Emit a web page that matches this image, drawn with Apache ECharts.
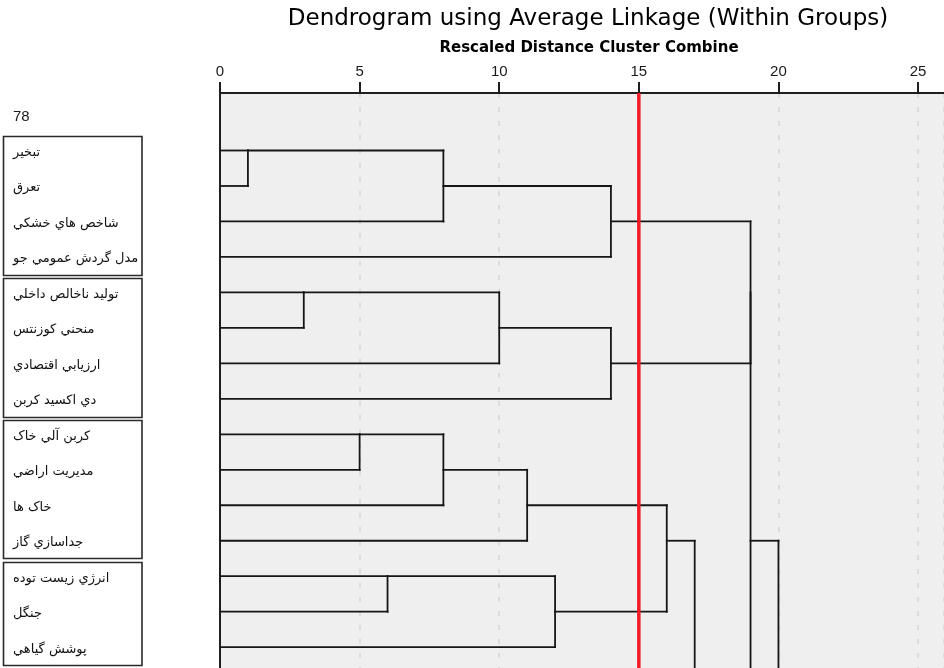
<!DOCTYPE html>
<html><head><meta charset="utf-8">
<script src="https://cdn.jsdelivr.net/npm/echarts@6/dist/echarts.min.js"></script>
<style>html,body{margin:0;padding:0;background:#fff}#c{width:944px;height:668px}</style>
</head><body><div id="c"></div>
<script>
// ---------- data ----------
const titleText = 'Dendrogram using Average Linkage (Within Groups)';
const axisTitle = 'Rescaled Distance Cluster Combine';
const xTicks = [0, 5, 10, 15, 20, 25];
const aboveLabel = '78';               // partially cropped row above the first leaf
const leafLabels = [
  'تبخير', 'تعرق', 'شاخص هاي خشكي', 'مدل گردش عمومي جو',
  'توليد ناخالص داخلي', 'منحني كوزنتس', 'ارزيابي اقتصادي', 'دي اكسيد كربن',
  'كربن آلي خاک', 'مديريت اراضي', 'خاک ها', 'جداسازي گاز',
  'انرژي زيست توده', 'جنگل', 'پوشش گياهي'
];
// leaf groups framed by boxes (first leaf, last leaf)
const labelGroups = [[0, 3], [4, 7], [8, 11], [12, 14]];
// clusters that lie below the cropped area (row positions)
const hiddenClusters = { H1: 18, H2: 18, H3: 22 };
// merges: [child A, child B, rescaled distance]
const merges = [
  ['L0', 'L1', 1],    // M0
  ['M0', 'L2', 8],    // M1
  ['M1', 'L3', 14],   // M2
  ['L4', 'L5', 3],    // M3
  ['M3', 'L6', 10],   // M4
  ['M4', 'L7', 14],   // M5
  ['L8', 'L9', 5],    // M6
  ['M6', 'L10', 8],   // M7
  ['M7', 'L11', 11],  // M8
  ['L12', 'L13', 6],  // M9
  ['M9', 'L14', 12],  // M10
  ['M8', 'M10', 16],  // M11
  ['M11', 'H1', 17],  // M12
  ['M2', 'M5', 19],   // M13
  ['M13', 'H2', 19],  // M14
  ['M14', 'H3', 20]   // M15
];
const cutDistance = 15;

// ---------- build tree segments ----------
const nodes = {};
leafLabels.forEach((_, i) => { nodes['L' + i] = { row: i, h: 0 }; });
const segments = [];
merges.forEach((m, i) => {
  const [a, b, d] = m;
  [a, b].forEach(c => {
    if (!nodes[c]) nodes[c] = { row: hiddenClusters[c], h: d };
    const n = nodes[c];
    if (n.h < d) segments.push([n.h, n.row, d, n.row]);
  });
  const ra = nodes[a].row, rb = nodes[b].row;
  segments.push([d, ra, d, rb]);
  nodes['M' + i] = { row: Math.floor((ra + rb) / 2), h: d };
});

// ---------- layout constants ----------
const gridLeft = 220, gridTop = 93, unitPx = 28, rowPx = 35.6, row0Px = 150.7;
const xMax = (946 - gridLeft) / unitPx;
const yMin = -(row0Px - gridTop) / rowPx;
const yMax = (670 - row0Px) / rowPx;

const chart = echarts.init(document.getElementById('c'), null, { renderer: 'canvas' });
chart.setOption({
  animation: false,
  grid: { left: gridLeft, top: gridTop, right: -2, bottom: -2, show: true,
          backgroundColor: '#efefef', borderWidth: 0 },
  xAxis: {
    type: 'value', position: 'top', min: 0, max: xMax, interval: 5,
    axisLine: { show: true, onZero: false, lineStyle: { color: '#1e1e1e', width: 2 } },
    axisTick: { show: true, inside: false, length: 11, lineStyle: { color: '#1e1e1e', width: 2 } },
    axisLabel: { show: true, margin: 14, fontSize: 15, fontFamily: 'Liberation Sans', color: '#1a1a1a',
                 showMaxLabel: false,
                 formatter: v => (xTicks.indexOf(v) >= 0 ? String(v) : '') },
    splitLine: { show: true, lineStyle: { color: '#d6d6d6', width: 1.5, type: [5, 9] } }
  },
  yAxis: {
    type: 'value', inverse: true, min: yMin, max: yMax,
    axisLine: { show: true, onZero: false, lineStyle: { color: '#1e1e1e', width: 2 } },
    axisTick: { show: false }, axisLabel: { show: false }, splitLine: { show: false }
  },
  series: [
    {
      type: 'custom', clip: true, z: 3,
      encode: { x: [0, 2], y: [1, 3] },
      data: segments,
      renderItem: (params, api) => {
        const p1 = api.coord([api.value(0), api.value(1)]);
        const p2 = api.coord([api.value(2), api.value(3)]);
        return { type: 'line',
                 shape: { x1: p1[0], y1: p1[1], x2: p2[0], y2: p2[1] },
                 style: { stroke: '#161616', lineWidth: 1.8, lineCap: 'square' } };
      }
    },
    {
      type: 'line', z: 5, symbol: 'none', silent: true,
      data: [[cutDistance, yMin], [cutDistance, yMax]],
      lineStyle: { color: '#ee1c25', width: 3.5 }
    }
  ]
});

// ---------- labels, frames, titles ----------
const yPix = r => chart.convertToPixel({ yAxisIndex: 0 }, r);
const graphics = [];
graphics.push({ type: 'text', x: 588, y: 19.5, style: { text: titleText, font: '23px "DejaVu Sans"',
  fill: '#000', align: 'center', verticalAlign: 'middle' } });
graphics.push({ type: 'text', x: 589, y: 48.5, style: { text: axisTitle, font: 'bold 15px "DejaVu Sans"',
  fill: '#000', align: 'center', verticalAlign: 'middle' } });
graphics.push({ type: 'text', x: 13, y: yPix(-1) + 2, style: { text: aboveLabel, font: '15px "Liberation Sans"',
  fill: '#1a1a1a', align: 'left', verticalAlign: 'middle' } });
leafLabels.forEach((t, i) => {
  graphics.push({ type: 'text', x: 13, y: yPix(i) + 2, style: { text: t, font: '13px "DejaVu Sans"',
    fill: '#111', align: 'left', verticalAlign: 'middle' } });
});
labelGroups.forEach(g => {
  const top = Math.round(yPix(g[0] - 0.4)) + 0.5;
  const bot = Math.round(yPix(g[1] + 0.5)) + 0.5;
  graphics.push({ type: 'rect', shape: { x: 3.5, y: top, width: 138.5, height: bot - top },
    style: { fill: 'none', stroke: '#2a2a2a', lineWidth: 1.6 } });
});
chart.setOption({ graphic: graphics });
</script></body></html>
